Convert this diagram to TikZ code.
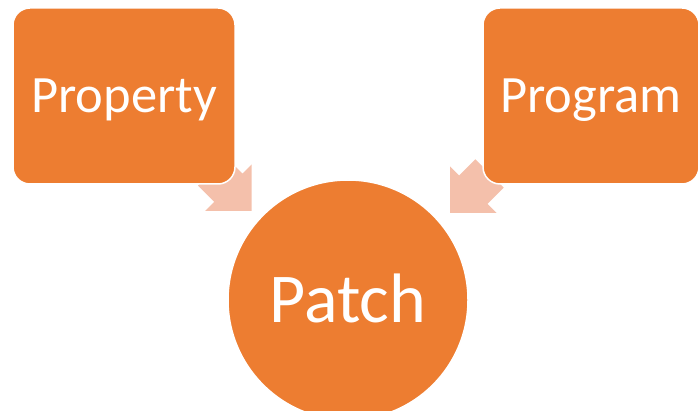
\documentclass[tikz,border=0pt]{standalone}
\usepackage{fontspec}
\setmainfont{Carlito}
\usepackage{tikz}
\definecolor{boxorange}{RGB}{237,125,49}
\definecolor{arrowpink}{RGB}{244,192,171}

\begin{document}
\begin{tikzpicture}
  [x=1pt,y=-1pt,every node/.style={fill=boxorange,text=white,draw=white,line width=1.5pt,inner sep=0pt}]
 \tikzset{BoxStyle/.style={rectangle,rounded corners=17pt,minimum height=176pt,text height=33.5pt,text depth=0pt,font=\fontsize{52.5}{62}\selectfont}}
 \tikzset{ArrowStyle/.style={fill=arrowpink}}

  \useasboundingbox (0,0) rectangle (698,411);

  \coordinate (t1) at (251.7,211);
  \coordinate (t2) at (450,213);

  \fill[ArrowStyle,shift={(t1)},rotate=-45] (0,0) -- (-33,33) -- (-33,20) -- (-56,20) -- (-56,-20) -- (-33,-20) -- (-33,-33) -- cycle;
  \fill[ArrowStyle,shift={(t2)},rotate=-135] (0,0) -- (-33,33) -- (-33,20) -- (-56,20) -- (-56,-20) -- (-33,-20) -- (-33,-33) -- cycle;

  \node[BoxStyle,minimum width=222pt] (n1) at (124,96) {Property};
  \node[BoxStyle,minimum width=216pt] (n2) at (591,96) {Program};
  \node[circle,minimum size=240pt,text height=45pt,text depth=0pt,font=\fontsize{70}{82}\selectfont] (n3) at (348,300) {Patch};

\end{tikzpicture}
\end{document}
